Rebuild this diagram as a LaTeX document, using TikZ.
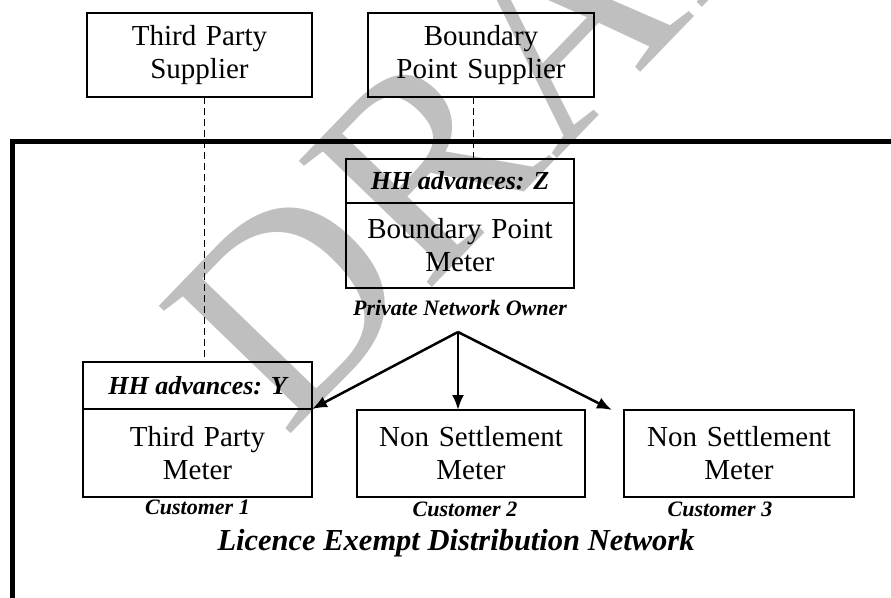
\documentclass[tikz,border=0pt]{standalone}
\usepackage{fontspec}
\setmainfont{Liberation Serif}
\usetikzlibrary{positioning,arrows.meta}
\tikzstyle{plain} = [rectangle, draw, line width=1.2pt, text centered, %
   inner sep=0pt, outer sep=0pt, font=\fontsize{29}{33}\selectfont]
\tikzstyle{head} = [rectangle, draw, line width=1.2pt, text centered, %
   inner sep=0pt, outer sep=0pt, font=\fontsize{26}{30}\selectfont\bfseries\itshape]
\tikzstyle{owner} = [inner sep=0pt, font=\fontsize{22}{25}\selectfont\bfseries\itshape]
\tikzstyle{line} = [draw, line width=2.5pt, -{Latex[length=15pt,width=12pt]}]
\tikzstyle{link} = [draw, line width=1pt, dash pattern=on 7pt off 4pt]

\begin{document}
\begin{tikzpicture}[x=1pt,y=-1pt]
   \useasboundingbox (0,0) rectangle (891,597);
   \clip (0,0) rectangle (891,597);

% Watermark %%%%%%%%%%%%%%%%%%%%%%%%%%%%%%%%%%%%%%%%%%%%%%%%%%%%%%%%%%%
   \node[rotate=46, anchor=base west, inner sep=0pt, text=black!25, %
      font=\fontsize{280}{280}\selectfont](draft) at (285,440){DRAFT};

% Network frame %%%%%%%%%%%%%%%%%%%%%%%%%%%%%%%%%%%%%%%%%%%%%%%%%%%%%%%
   \draw[line width=5pt] (12,141) rectangle (1000,700);

% Suppliers %%%%%%%%%%%%%%%%%%%%%%%%%%%%%%%%%%%%%%%%%%%%%%%%%%%%%%%%%%%
   \node[plain, minimum width=225pt, minimum height=84pt, text width=215pt, align=center](tpsupplier) at (199.5,55){%
      Third Party\\Supplier};
   \node[plain, minimum width=226pt, minimum height=84pt, text width=216pt, align=center](bpsupplier) at (481,55){%
      Boundary\\Point Supplier};

% Boundary point meter %%%%%%%%%%%%%%%%%%%%%%%%%%%%%%%%%%%%%%%%%%%%%%%%
   \node[head, minimum width=228pt, minimum height=44pt](bphh) at (460,181){HH advances: Z};
   \node[plain, below=0pt of bphh, minimum width=228pt, minimum height=85pt, text width=220pt, align=center](bpmeter){%
      Boundary Point\\Meter};
   \node[owner, below=12pt of bpmeter](owner){Private Network Owner};
   \coordinate (split) at (458,332);

% Customer meters %%%%%%%%%%%%%%%%%%%%%%%%%%%%%%%%%%%%%%%%%%%%%%%%%%%%%
   \node[head, minimum width=229pt, minimum height=47pt](tphh) at (197.5,385.5){HH advances: Y};
   \node[plain, below=0pt of tphh, minimum width=229pt, minimum height=88pt, text width=220pt, align=center](tpmeter){%
      Third Party\\Meter};
   \node[plain, minimum width=228pt, minimum height=87pt, text width=220pt, align=center](nsmeter1) at (471,453.5){%
      Non Settlement\\Meter};
   \node[plain, minimum width=230pt, minimum height=87pt, text width=220pt, align=center](nsmeter2) at (739,453.5){%
      Non Settlement\\Meter};

   \node[owner, below=3pt of tpmeter](cust1){Customer 1};
   \node[owner, below=5pt of nsmeter1, xshift=-6pt](cust2){Customer 2};
   \node[owner, below=5pt of nsmeter2, xshift=-19pt](cust3){Customer 3};

   \node[owner, font=\fontsize{30.5}{34}\selectfont\bfseries\itshape](lednet) at (456,543){%
      Licence Exempt Distribution Network};

   % Draw edges
   % Supplier links
   \path [link] ([xshift=4.5pt]tpsupplier.south) -- ([xshift=4.5pt]tpsupplier.south |- tphh.north);
   \path [link] ([xshift=-8pt]bpsupplier.south) -- ([xshift=-8pt]bpsupplier.south |- bphh.north);

   % Private network
   \path [line] (split) -- (tphh.south east);
   \path [line] (split) -- (split |- nsmeter1.north);
   \path [line] (split) -- ([xshift=-12pt]nsmeter2.north west);

\end{tikzpicture}
\end{document}
